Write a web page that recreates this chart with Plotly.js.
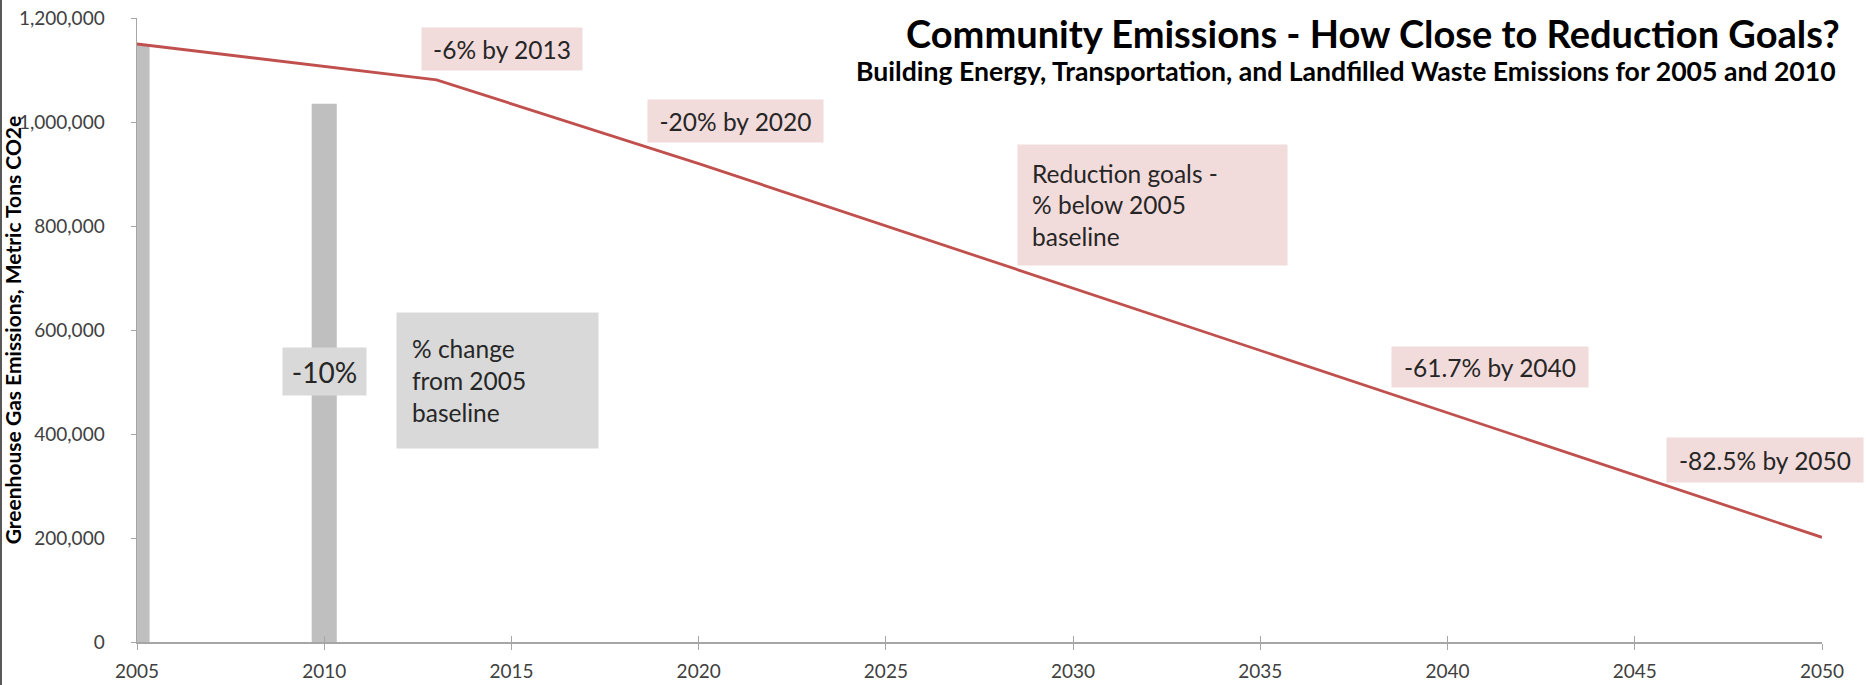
<!DOCTYPE html>
<html>
<head>
<meta charset="utf-8">
<script src="https://cdn.plot.ly/plotly-3.0.1.min.js"></script>
<style>html,body{margin:0;padding:0;background:#fff;}#chart{width:1866px;height:685px;}</style>
</head>
<body>
<div id="chart"></div>
<script>
// Reduction goal line (years and emissions, metric tons CO2e)
const goalYears = [2005, 2013, 2020, 2040, 2050];
const goalValues = [1150000, 1081000, 920000, 440450, 201250];
// Inventory bars
const barYears = [2005, 2010];
const barValues = [1150000, 1035000];
// Tick values
const yTicks = [0, 200000, 400000, 600000, 800000, 1000000, 1200000];
const xTicks = [2005, 2010, 2015, 2020, 2025, 2030, 2035, 2040, 2045, 2050];
// Label texts
const goalLabels = ["-6% by 2013", "-20% by 2020", "-61.7% by 2040", "-82.5% by 2050"];

const FONT = "Lato, 'Open Sans', sans-serif";
const pink = "#f2dcdb";
const grayBox = "#d9d9d9";

const traces = [
  {
    type: "bar", x: barYears, y: barValues, width: 0.67,
    marker: {color: "#bfbfbf"}, xaxis: "x", yaxis: "y",
    hoverinfo: "x+y", showlegend: false
  },
  {
    type: "scatter", mode: "lines", x: goalYears, y: goalValues,
    line: {color: "#c0504d", width: 2.8}, xaxis: "x2", yaxis: "y",
    showlegend: false
  }
];

function box(text, x, y, w, h, bg, size, align, pad) {
  return {
    text: text, x: x, y: y, xref: "x", yref: "y",
    showarrow: false, bgcolor: bg, width: w, height: h,
    borderpad: pad || 0, align: align || "center", valign: "middle",
    font: {family: FONT, size: size || 24.5, color: "#262626"},
    xanchor: "center", yanchor: "middle"
  };
}

const annotations = [
  box(goalLabels[0], 2014.75, 1140400, 160, 42, pink),
  box(goalLabels[1], 2020.99, 1001900, 175, 42, pink),
  box("Reduction goals -<br>% below 2005<br>baseline", 2032.12, 840400, 241, 92, pink, 24.5, "left", 14),
  box(goalLabels[2], 2041.14, 528800, 196, 40, pink),
  box(goalLabels[3], 2048.48, 350000, 196, 44, pink),
  box("-10%", 2010.01, 520200, 83, 47, grayBox, 28),
  box("% change<br>from 2005<br>baseline", 2014.63, 502900, 171, 105, grayBox, 24.5, "left", 15),
  {
    text: "<b>Building Energy, Transportation, and Landfilled Waste Emissions for 2005 and 2010</b>",
    xref: "paper", yref: "paper", x: (854 - 137) / 1685, y: (642 - 71) / 624,
    xanchor: "left", yanchor: "middle", showarrow: false,
    font: {family: FONT, size: 26.6, color: "#000"}
  }
];

const layout = {
  width: 1866, height: 685,
  margin: {l: 137, r: 44, t: 18, b: 43},
  paper_bgcolor: "#fff", plot_bgcolor: "#fff",
  title: {
    text: "<b>Community Emissions - How Close to Reduction Goals?</b>",
    xref: "container", yref: "container",
    x: 906 / 1866, xanchor: "left", y: 1 - 35 / 685, yanchor: "middle",
    font: {family: FONT, size: 38, color: "#000"}
  },
  xaxis: {
    range: [2005, 2050], tickvals: xTicks, ticktext: xTicks.map(String),
    showgrid: false, zeroline: false, showline: true, linecolor: "#a6a6a6", linewidth: 1.5,
    ticks: "outside", ticklen: 6, tickcolor: "#a6a6a6", tickwidth: 1,
    ticklabelstandoff: 6,
    tickfont: {family: FONT, size: 19, color: "#404040"}
  },
  xaxis2: {
    range: [2005, 2050], overlaying: "x", tickvals: xTicks,
    showticklabels: false, showgrid: false, zeroline: false, showline: false,
    ticks: "inside", ticklen: 6, tickcolor: "#a6a6a6", tickwidth: 1
  },
  yaxis: {
    range: [0, 1200000], tickvals: yTicks, tickformat: ",d",
    showgrid: false, zeroline: false, showline: true, linecolor: "#a6a6a6", linewidth: 1.5,
    ticks: "outside", ticklen: 5, tickcolor: "#a6a6a6", tickwidth: 1,
    ticklabelstandoff: 22,
    tickfont: {family: FONT, size: 19, color: "#404040"},
    title: {
      text: "<b>Greenhouse Gas Emissions, Metric Tons CO2e</b>",
      font: {family: FONT, size: 21, color: "#000"}, standoff: 0
    }
  },
  shapes: [
    {type: "line", xref: "paper", yref: "paper", x0: -136 / 1685, x1: -136 / 1685, y0: -43 / 624, y1: 1 + 18 / 624,
     line: {color: "#595959", width: 2}}
  ],
  annotations: annotations,
  showlegend: false
};

Plotly.newPlot("chart", traces, layout, {displayModeBar: false, staticPlot: true});
</script>
</body>
</html>
